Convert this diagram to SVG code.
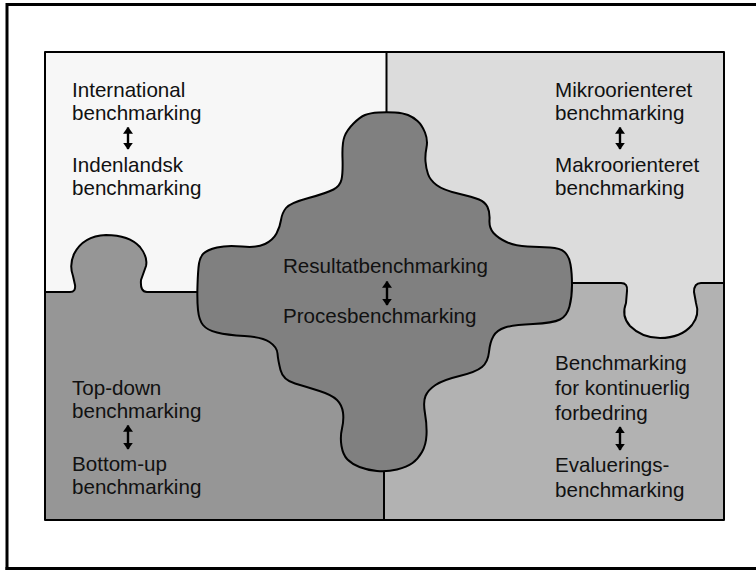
<svg xmlns="http://www.w3.org/2000/svg" width="756" height="572" viewBox="0 0 756 572">
  <defs>
    <style>
      .lbl { font-family: "Liberation Sans", Arial, sans-serif; font-size: 20.6px; fill: #111; }
      .edge { fill: none; stroke: #000; stroke-width: 2; stroke-linejoin: round; stroke-linecap: round; }
      .arrow-shaft { stroke: #000; stroke-width: 2.4; }
    </style>
    <marker id="head" viewBox="0 0 10 10" refX="9" refY="5" markerWidth="7" markerHeight="10" markerUnits="userSpaceOnUse" orient="auto-start-reverse" preserveAspectRatio="none">
      <path d="M0,0 L10,5 L0,10 Z" fill="#000"/>
    </marker>
  </defs>

  <rect width="756" height="572" fill="#fff"/>

  <!-- outer frame -->
  <path d="M7,570 L7,4.5 L760,4.5" fill="none" stroke="#000" stroke-width="3"/>
  <line x1="5.5" y1="568.5" x2="760" y2="568.5" stroke="#000" stroke-width="3"/>

  <!-- puzzle pieces -->
  <g id="piece-international">
    <rect x="45" y="52" width="341" height="240" fill="#f7f7f7"/>
  </g>
  <g id="piece-mikro">
    <rect x="386" y="52" width="338" height="231" fill="#dcdcdc"/>
  </g>
  <g id="piece-topdown">
    <rect x="45" y="292" width="339" height="228" fill="#969696"/>
    <path d="M70,293 Q76,292 75,285 L73,276 Q69,265 74,254 Q83,236 106,235 Q129,235 140,247 Q148,257 146,266 L141,280 Q140,292 147,293 Z" fill="#969696"/>
  </g>
  <g id="piece-kontinuerlig">
    <rect x="384" y="283" width="340" height="237" fill="#b2b2b2"/>
    <path d="M621,282 Q628,283 627,291 L626,303 Q621,316 630,326 Q642,338 660,338 Q681,338 692,325 Q700,315 696,303 L694,292 Q694,283 701,282 Z" fill="#dcdcdc"/>
  </g>

  <!-- piece boundaries -->
  <g id="connectors">
    <rect x="45" y="52" width="679" height="468" class="edge"/>
    <line x1="386.5" y1="52" x2="386.5" y2="120" class="edge"/>
    <line x1="384" y1="460" x2="384" y2="520" class="edge"/>
    <path class="edge" d="M45,292 L70,292 Q76,292 75,285 L73,276 Q69,265 74,254 Q83,236 106,235 Q129,235 140,247 Q148,257 146,266 L141,280 Q140,292 147,292 L205,292"/>
    <path class="edge" d="M560,283 L621,283 Q628,283 627,291 L626,303 Q621,316 630,326 Q642,338 660,338 Q681,338 692,325 Q700,315 696,303 L694,292 Q694,283 701,283 L724,283"/>
  </g>

  <g id="piece-resultat">
    <path class="edge" style="fill:#808080" d="M365,115 Q370,113 378.5,112.5 Q387,112 395,112.5 Q403,113 408,115 Q413,117 417.5,121 Q422,125 425,132.5 Q428,140 426.5,147.5 Q425,155 425.5,161.5 Q426,168 428,174 Q430,180 436.5,185 Q443,190 458,193.5 Q473,197 479,199.5 Q485,202 487.5,207 Q490,212 489.5,220 Q489,228 493.5,233 Q498,238 506.5,242 Q515,246 527.5,246.5 Q540,247 550,247.5 Q560,248 564.5,252 Q569,256 570.5,264.5 Q572,273 572,285 Q572,297 569.5,306.5 Q567,316 560,319.5 Q553,323 533,324 Q513,325 505,327.5 Q497,330 493.5,336 Q490,342 489,352 Q488,362 482,367 Q476,372 459.5,376 Q443,380 435.5,385 Q428,390 425.5,396 Q423,402 425,413.5 Q427,425 426.5,435 Q426,445 422,452 Q418,459 412.5,463 Q407,467 397,469.5 Q387,472 377,471 Q367,470 359.5,467 Q352,464 347.5,459.5 Q343,455 341.5,446 Q340,437 342,428.5 Q344,420 343,412.5 Q342,405 337,400 Q332,395 319.5,391 Q307,387 295,383.5 Q283,380 280.5,370 Q278,360 277.5,353.5 Q277,347 269.5,342 Q262,337 244.5,336 Q227,335 217,332.5 Q207,330 203,325 Q199,320 198,310 Q197,300 197.5,285 Q198,270 199,263.5 Q200,257 203.5,253.5 Q207,250 217,247.5 Q227,245 242,246.5 Q257,248 265,244 Q273,240 276.5,233.5 Q280,227 281,220 Q282,213 286,208 Q290,203 308.5,198 Q327,193 333.5,189.5 Q340,186 341.5,179.5 Q343,173 342.5,158 Q342,143 344.5,136.5 Q347,130 353.5,123.5 Q360,117 365,115 Z"/>
  </g>

  <!-- labels -->
  <g id="label-international">
    <text class="lbl" x="72" y="97">International</text>
    <text class="lbl" x="72" y="120">benchmarking</text>
    <line class="arrow-shaft" x1="128" y1="127.5" x2="128" y2="149" marker-start="url(#head)" marker-end="url(#head)"/>
    <text class="lbl" x="72" y="172">Indenlandsk</text>
    <text class="lbl" x="72" y="195">benchmarking</text>
  </g>
  <g id="label-mikro">
    <text class="lbl" x="555" y="97">Mikroorienteret</text>
    <text class="lbl" x="555" y="120">benchmarking</text>
    <line class="arrow-shaft" x1="620" y1="127.5" x2="620" y2="149" marker-start="url(#head)" marker-end="url(#head)"/>
    <text class="lbl" x="555" y="172">Makroorienteret</text>
    <text class="lbl" x="555" y="195">benchmarking</text>
  </g>
  <g id="label-resultat">
    <text class="lbl" x="283" y="273">Resultatbenchmarking</text>
    <line class="arrow-shaft" x1="387" y1="281.5" x2="387" y2="305" marker-start="url(#head)" marker-end="url(#head)"/>
    <text class="lbl" x="283" y="323">Procesbenchmarking</text>
  </g>
  <g id="label-topdown">
    <text class="lbl" x="72" y="395">Top-down</text>
    <text class="lbl" x="72" y="418">benchmarking</text>
    <line class="arrow-shaft" x1="128" y1="425.5" x2="128" y2="449" marker-start="url(#head)" marker-end="url(#head)"/>
    <text class="lbl" x="72" y="471">Bottom-up</text>
    <text class="lbl" x="72" y="494">benchmarking</text>
  </g>
  <g id="label-kontinuerlig">
    <text class="lbl" x="555" y="370">Benchmarking</text>
    <text class="lbl" x="555" y="395">for kontinuerlig</text>
    <text class="lbl" x="555" y="420">forbedring</text>
    <line class="arrow-shaft" x1="620" y1="427" x2="620" y2="450" marker-start="url(#head)" marker-end="url(#head)"/>
    <text class="lbl" x="555" y="472">Evaluerings-</text>
    <text class="lbl" x="555" y="497">benchmarking</text>
  </g>
</svg>
